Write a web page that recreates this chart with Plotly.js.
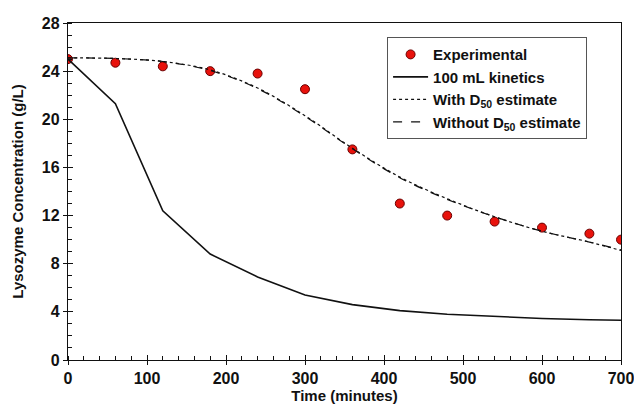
<!DOCTYPE html>
<html>
<head>
<meta charset="utf-8">
<script src="https://cdn.plot.ly/plotly-3.0.1.min.js"></script>
<style>html,body{margin:0;padding:0;background:#fff;}#chart{width:634px;height:410px;}</style>
</head>
<body>
<div id="chart"></div>
<script>
const expTime = [0, 60, 120, 180, 240, 300, 360, 420, 480, 540, 600, 660, 700];
const expConc = [25.0, 24.7, 24.4, 24.0, 23.8, 22.5, 17.5, 13.0, 12.0, 11.5, 11.0, 10.5, 10.0];

const modelTime = [0, 60, 120, 180, 240, 300, 360, 420, 480, 540, 600, 660, 700];
const kinetics100 = [25.0, 21.3, 12.4, 8.8, 6.9, 5.4, 4.6, 4.1, 3.8, 3.6, 3.45, 3.35, 3.3];
const withD50 = [25.1, 25.05, 24.8, 24.1, 22.6, 20.3, 17.6, 15.2, 13.4, 11.9, 10.7, 9.8, 9.1];
const withoutD50 = [25.1, 25.05, 24.8, 24.05, 22.55, 20.25, 17.55, 15.15, 13.35, 11.9, 10.7, 9.8, 9.15];

const traces = [
  {x: expTime, y: expConc, mode: 'markers', name: 'Experimental',
   marker: {color: '#e8120c', size: 9, line: {color: '#6b0000', width: 1}}},
  {x: modelTime, y: kinetics100, mode: 'lines', name: '100 mL kinetics',
   line: {color: '#111', width: 1.6}},
  {x: modelTime, y: withD50, mode: 'lines', name: 'With D<sub>50</sub> estimate',
   line: {color: '#111', width: 1.2, dash: 'dot', shape: 'spline'}},
  {x: modelTime, y: withoutD50, mode: 'lines', name: 'Without D<sub>50</sub> estimate',
   line: {color: '#111', width: 1.2, dash: 'dash', shape: 'spline'}},
  {x: [null], y: [null], xaxis: 'x2', yaxis: 'y2', showlegend: false, hoverinfo: 'skip', mode: 'markers'}
];

const fontFam = '"Liberation Sans", Arial, sans-serif';
const layout = {
  width: 634, height: 410,
  margin: {l: 68, r: 13, t: 23, b: 50},
  paper_bgcolor: '#fff', plot_bgcolor: '#fff',
  font: {family: fontFam, color: '#111', size: 15},
  showlegend: true,
  legend: {x: 0.577, y: 0.958, xanchor: 'left', yanchor: 'top',
    bordercolor: '#555', borderwidth: 1, bgcolor: '#fff',
    font: {family: fontFam, size: 15, color: '#111', weight: 'bold'},
    tracegroupgap: 0, itemwidth: 35},
  xaxis: {range: [0, 700], dtick: 100, tick0: 0, showgrid: false, zeroline: false,
    showline: true, linecolor: '#111', linewidth: 1.2, mirror: true,
    ticks: 'outside', ticklen: 4, tickcolor: '#111', ticklabeloverflow: 'allow',
    minor: {dtick: 20, ticks: 'inside', ticklen: 4, tickcolor: '#111', showgrid: false},
    tickfont: {family: fontFam, size: 16, weight: 'bold'},
    title: {text: 'Time (minutes)', font: {family: fontFam, size: 15, weight: 'bold'}, standoff: 4}},
  yaxis: {range: [0, 28], dtick: 4, tick0: 0, showgrid: false, zeroline: false,
    showline: true, linecolor: '#111', linewidth: 1.2, mirror: true,
    ticks: 'outside', ticklen: 4, tickcolor: '#111', ticklabeloverflow: 'allow',
    minor: {dtick: 1, ticks: 'inside', ticklen: 4, tickcolor: '#111', showgrid: false},
    tickfont: {family: fontFam, size: 16, weight: 'bold'},
    title: {text: 'Lysozyme Concentration (g/L)', font: {family: fontFam, size: 15, weight: 'bold'}, standoff: 14}},
  xaxis2: {overlaying: 'x', matches: 'x', range: [0, 700], dtick: 100, tick0: 0,
    showgrid: false, zeroline: false, showline: false, showticklabels: false,
    ticks: 'inside', ticklen: 5, tickcolor: '#111', anchor: 'y2'},
  yaxis2: {overlaying: 'y', matches: 'y', range: [0, 28], dtick: 4, tick0: 0,
    showgrid: false, zeroline: false, showline: false, showticklabels: false,
    ticks: 'inside', ticklen: 5, tickcolor: '#111', anchor: 'x2'}
};

Plotly.newPlot('chart', traces, layout, {displayModeBar: false, staticPlot: true});
</script>
</body>
</html>
